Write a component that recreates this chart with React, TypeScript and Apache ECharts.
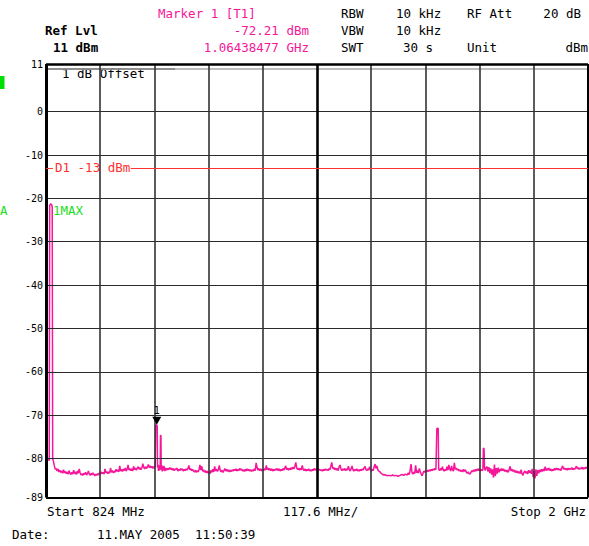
import React, { useEffect, useRef } from 'react';
import * as echarts from 'echarts';

const START_MHZ = 824;
const STOP_MHZ = 2000;
const REF_DBM = 11;
const BOTTOM_DBM = -89;
const yTickLabels = [11, 0, -10, -20, -30, -40, -50, -60, -70, -80, -89];
const yGridDbm = [0, -10, -20, -30, -40, -50, -60, -70, -80];
const freqGridMHz = [941.6, 1059.2, 1176.8, 1294.4, 1529.6, 1647.2, 1764.8, 1882.4];
const centerMHz = 1412;
const displayLineDbm = -13;
const markerFreqMHz = 1064.38477;
const markerLevelDbm = -72.21;

const tracePoints: [number, number][] = [
  [824,-84.6],[825,-82.0],[826.5,-80.4],[828,-80.1],[830,-80.3],[831,-80.5],
  [832,-21.6],[834,-21.3],[836,-21.4],[837.5,-22.0],[838.5,-80.1],[840,-80.6],[842,-81.6],[844,-82.5],
  [846,-82.3],[848,-82.9],[850,-82.4],[852,-83.1],[854,-82.7],[856,-83.2],[858,-82.9],[860,-83.4],[862,-82.6],[864,-83.3],[866,-83.0],[868,-83.5],[870,-83.1],[872,-83.6],[874,-82.8],[876,-83.4],[878,-83.7],[880,-83.2],[882,-83.6],[884,-82.7],[886,-83.5],[888,-83.1],[890,-83.7],[892,-82.9],[894,-83.4],[896,-82.4],[898,-83.3],[900,-83.8],[902,-83.5],[904,-83.9],[906,-83.4],[908,-83.7],[910,-83.2],[912,-83.8],[914,-83.5],[916,-82.9],[918,-83.6],[920,-83.9],[922,-83.4],[924,-83.8],[926,-83.3],[928,-83.7],[930,-84.0],[932,-83.6],[934,-83.9],[936,-83.5],[938,-83.8],[940,-83.3],[942,-83.6],[944,-83.1],[946,-83.5],[948,-83.2],[950,-83.6],[952,-82.4],[954,-83.3],[956,-83.0],[958,-83.5],[960,-83.1],[962,-83.4],[964,-82.2],[966,-83.2],[968,-82.8],[970,-83.3],[972,-82.9],[974,-83.2],[976,-82.5],[978,-83.0],[980,-82.6],[982,-83.1],[984,-81.7],[986,-82.9],[988,-82.5],[990,-83.0],[992,-82.4],[994,-82.8],[996,-82.2],[998,-82.9],[1000,-82.5],[1002,-81.5],[1004,-82.7],[1006,-82.3],[1008,-82.8],[1010,-82.4],[1012,-82.9],[1014,-81.8],[1016,-82.6],[1018,-82.2],[1020,-82.7],[1022,-82.3],[1024,-81.9],[1026,-82.5],[1028,-82.1],[1030,-82.6],[1032,-82.2],[1034,-81.2],[1036,-82.0],[1038,-82.4],[1040,-81.9],[1042,-82.3],[1044,-82.0],[1046,-81.4],[1048,-82.1],[1050,-81.7],[1052,-82.2],[1054,-81.8],[1056,-82.3],[1058,-81.9],[1060,-82.2],
  [1061,-81.9],[1062,-72.6],[1064.38,-72.21],[1065.3,-72.5],[1066,-82.1],[1067,-81.4],[1068,-82.9],[1069,-81.6],[1070,-82.7],[1071.8,-82.3],[1072.4,-74.6],[1073.4,-74.8],[1074,-82.6],[1075,-81.5],[1076,-83.0],[1077,-81.8],[1078,-82.8],[1080,-81.7],[1082,-82.9],[1084,-82.2],[1086,-82.7],[1088,-82.3],[1090,-82.6],[1092,-82.1],[1094,-82.5],[1096,-82.2],[1098,-82.7],[1100,-82.3],[1102,-82.8],[1104,-82.4],[1106,-82.6],[1108,-82.2],[1110,-82.9],[1112,-82.5],[1114,-82.8],[1116,-82.3],[1118,-82.7],[1120,-82.4],[1122,-82.9],[1124,-82.5],[1126,-82.8],[1128,-82.4],[1130,-82.7],[1132,-82.3],[1134,-81.6],[1136,-82.6],[1138,-82.3],[1140,-82.8],[1142,-82.5],[1144,-82.9],[1146,-83.1],[1148,-82.7],[1150,-83.2],[1152,-82.8],[1154,-83.1],[1156,-82.6],[1158,-81.5],[1160,-82.7],[1162,-81.8],[1164,-83.0],[1166,-82.6],[1168,-83.2],[1170,-82.8],[1172,-83.3],[1174,-82.9],[1176,-83.4],[1178,-83.0],[1180,-83.5],[1182,-82.7],[1184,-83.2],[1186,-82.5],[1188,-83.1],[1190,-81.8],[1192,-82.9],[1194,-82.4],[1196,-83.0],[1198,-82.6],[1200,-81.6],[1202,-82.8],[1204,-83.1],[1206,-82.7],[1208,-83.2],[1210,-82.8],[1212,-82.3],[1214,-82.9],[1216,-82.5],[1218,-83.0],[1220,-82.6],[1222,-83.1],[1224,-82.7],[1226,-83.0],[1228,-82.6],[1230,-82.9],
  [1232,-82.5],[1234,-82.8],[1236,-82.4],[1238,-82.9],[1240,-82.5],[1242,-82.8],[1244,-82.3],[1246,-82.7],[1248,-82.4],[1250,-82.9],[1252,-82.6],[1254,-83.0],[1256,-82.5],[1258,-82.9],[1260,-82.4],[1262,-82.8],[1264,-82.5],[1266,-82.9],[1268,-82.6],[1270,-83.0],[1272,-82.6],[1274,-82.9],[1276,-82.4],[1278,-82.8],[1280,-81.0],[1282,-82.1],[1284,-82.7],[1286,-82.3],[1288,-82.8],[1290,-82.4],[1292,-82.9],[1294,-82.5],[1296,-82.8],[1298,-82.3],[1300,-82.7],[1302,-81.6],[1304,-82.6],[1306,-82.2],[1308,-82.7],[1310,-82.3],[1312,-82.8],[1314,-82.4],[1316,-82.9],[1318,-82.5],[1320,-82.8],[1322,-82.4],[1324,-82.7],[1326,-82.3],[1328,-82.8],[1330,-82.4],[1332,-82.9],[1334,-82.5],[1336,-82.8],[1338,-82.3],[1340,-82.7],[1342,-82.2],[1344,-81.7],[1346,-82.6],[1348,-82.2],[1350,-82.7],[1352,-82.3],[1354,-82.6],[1356,-82.1],[1358,-82.5],[1360,-82.0],[1362,-82.4],[1364,-81.8],[1366,-80.9],[1368,-82.2],[1370,-82.6],[1372,-82.2],[1374,-82.7],[1376,-82.3],[1378,-82.6],[1380,-81.6],[1382,-82.5],[1384,-82.8],[1386,-82.4],[1388,-82.9],[1390,-82.5],[1392,-82.8],[1394,-82.4],[1396,-82.9],[1398,-82.6],[1400,-82.9],[1402,-82.5],[1404,-82.8],[1406,-82.3],[1408,-82.7],[1410,-82.4],[1412,-82.8],
  [1414,-82.4],[1416,-82.7],[1418,-82.5],[1420,-82.8],[1422,-82.6],[1424,-82.9],[1426,-82.5],[1428,-82.8],[1430,-82.4],[1432,-82.7],[1434,-82.5],[1436,-82.8],[1438,-82.3],[1440,-82.6],[1442,-81.8],[1444,-80.9],[1446,-82.3],[1448,-82.0],[1450,-82.6],[1452,-82.2],[1454,-82.7],[1456,-82.3],[1458,-82.8],[1460,-81.9],[1462,-81.5],[1464,-82.4],[1466,-82.8],[1468,-82.4],[1470,-82.7],[1472,-82.3],[1474,-82.8],[1476,-82.4],[1478,-82.7],[1480,-81.8],[1482,-82.5],[1484,-82.9],[1486,-82.4],[1488,-81.7],[1490,-82.6],[1492,-82.9],[1494,-82.5],[1496,-82.8],[1498,-82.4],[1500,-82.9],[1502,-82.6],[1504,-82.9],[1506,-82.5],[1508,-82.8],[1510,-82.4],[1512,-82.7],[1514,-82.2],[1516,-81.8],[1518,-82.5],[1520,-82.8],[1522,-82.4],[1524,-82.7],[1526,-81.9],[1528,-82.5],[1530,-82.9],[1532,-82.5],[1534,-82.8],[1536,-81.9],[1538,-81.3],[1540,-82.3],[1542,-81.7],[1544,-82.6],[1546,-82.9],[1548,-83.0],[1550,-83.3],[1552,-83.5],[1554,-83.6],[1556,-83.8],[1558,-83.7],[1560,-83.9],[1562,-83.8],[1564,-84.0],[1568,-83.9],[1572,-84.0],[1576,-83.8],[1580,-84.0],[1584,-83.9],[1588,-84.1],[1592,-83.9],[1596,-83.7],[1600,-83.9],[1604,-83.6],[1608,-83.8],[1610,-83.3],[1612,-83.7],[1614,-82.8],[1616,-81.3],[1618,-83.2],[1620,-83.6],[1622,-83.1],[1624,-83.5],[1626,-81.6],[1628,-83.3],[1630,-82.8],[1632,-83.4],[1634,-82.3],[1636,-83.0],[1638,-83.6],[1640,-84.0],[1642,-83.4],[1644,-82.9],[1646,-83.2],[1648,-82.8],[1650,-83.1],[1652,-82.7],[1654,-83.0],[1656,-82.6],[1658,-82.9],[1660,-82.5],[1662,-82.8],[1664,-82.4],[1666,-82.7],[1668,-82.3],[1670,-82.6],
  [1671,-82.6],[1672,-73.1],[1675,-73.0],[1676,-82.4],[1678,-82.8],[1680,-82.3],[1682,-82.7],[1684,-81.9],[1686,-82.6],[1688,-82.9],[1690,-82.5],[1692,-82.8],[1694,-81.9],[1696,-82.7],[1698,-81.5],[1700,-82.4],[1702,-82.9],[1704,-81.7],[1706,-82.6],[1708,-82.9],[1710,-81.0],[1712,-82.5],[1714,-82.2],[1716,-82.7],[1718,-82.4],[1720,-82.9],[1722,-82.6],[1724,-83.0],[1726,-82.7],[1728,-83.1],[1730,-82.5],[1732,-83.0],[1734,-82.6],[1736,-83.2],[1738,-83.4],[1740,-83.1],[1742,-83.5],[1744,-83.6],[1746,-83.2],[1748,-82.8],[1750,-83.1],[1752,-82.6],[1754,-83.0],[1756,-82.5],[1758,-82.9],[1760,-82.4],[1762,-82.8],[1764,-82.3],[1766,-82.9],[1768,-82.5],[1770,-82.8],[1772,-82.6],[1773,-77.6],[1774.5,-77.8],[1775.5,-82.2],[1777,-82.8],[1779,-82.1],[1781,-81.9],[1783,-83.0],[1785,-82.0],[1787,-83.4],[1789,-82.3],[1791,-83.7],[1793,-82.5],[1795,-84.4],[1797,-81.4],[1799,-84.1],[1801,-82.2],[1803,-83.5],[1805,-82.1],[1807,-83.2],[1809,-82.4],[1811,-82.9],[1813,-82.3],[1815,-82.8],[1817,-82.4],[1819,-83.0],[1821,-82.6],[1823,-83.1],[1825,-82.7],[1827,-83.2],[1829,-82.5],[1831,-81.8],[1833,-82.9],[1835,-82.4],[1837,-83.0],[1839,-82.6],[1841,-83.2],[1843,-82.8],[1845,-83.3],[1847,-82.9],[1849,-83.4],[1851,-83.0],[1853,-83.5],[1855,-82.6],[1857,-83.6],[1859,-83.9],[1861,-83.2],[1863,-82.9],[1865,-83.4],[1867,-83.0],[1869,-83.6],[1871,-82.7],[1873,-83.3],[1875,-82.8],[1877,-83.5],[1879,-82.4],[1881,-84.3],[1883,-82.9],[1885,-84.6],[1887,-82.5],[1889,-84.0],[1891,-82.7],[1893,-83.4],[1895,-82.6],[1897,-83.1],[1899,-82.5],[1901,-83.0],[1903,-82.4],[1905,-82.9],[1907,-81.9],[1909,-82.8],[1911,-82.3],[1913,-82.7],[1915,-82.2],[1917,-82.8],[1919,-82.4],[1921,-82.9],[1923,-82.5],[1925,-82.8],[1927,-82.3],[1929,-82.7],[1931,-82.2],[1933,-82.6],[1935,-82.3],[1937,-82.7],[1939,-82.4],[1941,-82.8],[1943,-82.2],[1945,-81.7],[1947,-82.5],[1949,-82.2],[1951,-82.6],[1953,-82.3],[1955,-82.7],[1957,-82.2],[1959,-82.6],[1961,-82.3],[1963,-82.5],[1965,-82.1],[1967,-82.6],[1969,-82.3],[1971,-82.5],[1973,-82.1],[1975,-81.8],[1977,-82.4],[1979,-82.1],[1981,-82.5],[1983,-82.2],[1985,-82.4],[1987,-82.0],[1989,-82.5],[1991,-82.1],[1993,-82.4],[1995,-82.0],[1997,-82.3],[1999,-81.9],[2000,-82.1],
];

const MONO = '"DejaVu Sans Mono", "Liberation Mono", monospace';
const PINK = '#f5169a';
const BLACK = '#000000';
const RED = '#ff3030';
const GREEN = '#22dd22';

// header / footer texts: [text, x, y, color, align, bold]
const infoTexts: [string, number, number, string, string, boolean][] = [
  ['Marker 1 [T1]', 158, 13, PINK, 'left', false],
  ['RBW', 341, 13, BLACK, 'left', false],
  ['10 kHz', 396, 13, BLACK, 'left', false],
  ['RF Att', 467, 13, BLACK, 'left', false],
  ['20 dB', 581, 13, BLACK, 'right', false],
  ['Ref Lvl', 45, 30, BLACK, 'left', true],
  ['-72.21 dBm', 309, 30, PINK, 'right', false],
  ['VBW', 341, 30, BLACK, 'left', false],
  ['10 kHz', 396, 30, BLACK, 'left', false],
  ['11 dBm', 53, 47, BLACK, 'left', true],
  ['1.06438477 GHz', 309, 47, PINK, 'right', false],
  ['SWT', 341, 47, BLACK, 'left', false],
  ['30 s', 403, 47, BLACK, 'left', false],
  ['Unit', 467, 47, BLACK, 'left', false],
  ['dBm', 588, 47, BLACK, 'right', false],
  ['1 dB Offset', 62, 73, BLACK, 'left', false],
  ['D1 -13 dBm', 55, 167, RED, 'left', false],
  ['1MAX', 53, 210, GREEN, 'left', false],
  ['A', 0, 210, GREEN, 'left', false],
  ['Start 824 MHz', 47, 511, BLACK, 'left', false],
  ['117.6 MHz/', 283, 511, BLACK, 'left', false],
  ['Stop 2 GHz', 586, 511, BLACK, 'right', false],
  ['Date:', 12, 534, BLACK, 'left', false],
  ['11.MAY 2005', 97, 534, BLACK, 'left', false],
  ['11:50:39', 195, 534, BLACK, 'left', false],
];

export default function App() {
  const ref = useRef<HTMLDivElement>(null);
  useEffect(() => {
    if (!ref.current) return;
    const chart = echarts.init(ref.current, null, { renderer: 'svg' });

    const hLine = (v: number, color: string, width: number) => ({ yAxis: v, lineStyle: { color, width } });
    const vLine = (v: number, color: string, width: number) => ({ xAxis: v, lineStyle: { color, width } });
    const seg = (x1: number, y1: number, x2: number, y2: number, color: string, width: number) => [
      { coord: [x1, y1], lineStyle: { color, width } },
      { coord: [x2, y2] },
    ];

    const gridLines: any[] = [
      ...yGridDbm.map((v) => hLine(v, '#2a2a2a', 1.2)),
      hLine(10, '#a8a8a8', 1.5),
      seg(START_MHZ, 10, 1104, 10, '#808080', 1.5),
      ...freqGridMHz.map((v) => vLine(v, '#333333', 1.6)),
      vLine(centerMHz, BLACK, 2.6),
      hLine(REF_DBM, BLACK, 2.5),
      hLine(BOTTOM_DBM, BLACK, 2.2),
      vLine(START_MHZ, BLACK, 3),
      vLine(STOP_MHZ, BLACK, 2),
      seg(START_MHZ, displayLineDbm, 839, displayLineDbm, RED, 1),
      seg(1008, displayLineDbm, STOP_MHZ, displayLineDbm, RED, 1),
    ];

    const option: any = {
      animation: false,
      backgroundColor: '#ffffff',
      grid: { left: 46, top: 64, right: 1, bottom: 48.5, outerBoundsMode: 'none' },
      xAxis: {
        type: 'value',
        min: START_MHZ,
        max: STOP_MHZ,
        axisLine: { show: false },
        axisTick: { show: false },
        axisLabel: { show: false },
        splitLine: { show: false },
      },
      yAxis: {
        type: 'value',
        min: BOTTOM_DBM,
        max: REF_DBM,
        axisLine: { show: false },
        axisTick: { show: false },
        splitLine: { show: false },
        axisLabel: {
          customValues: yTickLabels,
          color: BLACK,
          fontSize: 10,
          fontFamily: MONO,
          margin: 3,
        },
      },
      series: [
        {
          type: 'line',
          data: [[START_MHZ, BOTTOM_DBM], [STOP_MHZ, REF_DBM]],
          symbol: 'none',
          lineStyle: { opacity: 0 },
          silent: true,
          clip: false,
          z: 1,
          markLine: {
            silent: true,
            symbol: ['none', 'none'],
            label: { show: false },
            lineStyle: { type: 'solid' },
            animation: false,
            data: gridLines,
          },
        },
        {
          type: 'line',
          data: tracePoints,
          symbol: 'none',
          showSymbol: false,
          lineStyle: { color: PINK, width: 1.5 },
          silent: true,
          z: 3,
          markPoint: {
            silent: true,
            symbol: 'triangle',
            symbolSize: [9, 8],
            symbolRotate: 180,
            symbolOffset: [0, -4],
            itemStyle: { color: BLACK },
            label: {
              show: true,
              formatter: '1',
              position: 'top',
              distance: 1,
              color: BLACK,
              fontSize: 10,
              fontFamily: MONO,
            },
            data: [{ coord: [markerFreqMHz, markerLevelDbm] }],
          },
        },
      ],
      graphic: [
        { type: 'rect', shape: { x: 0, y: 76, width: 4.5, height: 13 }, style: { fill: '#00e000' } },
        ...infoTexts.map(([text, x, y, color, align, bold]) => ({
          type: 'text',
          x,
          y,
          style: {
            text,
            fill: color,
            fontSize: 12.5,
            fontFamily: MONO,
            fontWeight: bold ? 'bold' : 'normal',
            align,
            verticalAlign: 'middle',
          },
        })),
      ],
    };
    chart.setOption(option);
    return () => chart.dispose();
  }, []);
  return (
    <div
      ref={ref}
      style={{ position: 'absolute', left: 0, top: 0, width: 589, height: 546, background: '#fff' }}
    />
  );
}
